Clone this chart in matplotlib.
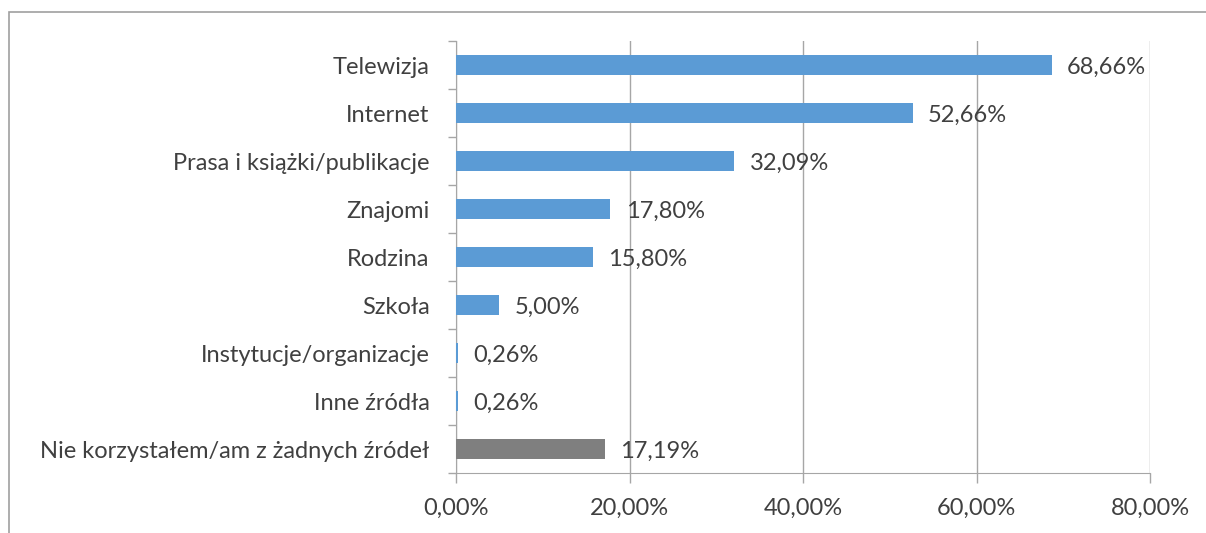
import matplotlib.pyplot as plt
from matplotlib.patches import Rectangle
from matplotlib.ticker import FixedLocator

categories = ["Telewizja", "Internet", "Prasa i książki/publikacje", "Znajomi",
              "Rodzina", "Szkoła", "Instytucje/organizacje", "Inne źródła",
              "Nie korzystałem/am z żadnych źródeł"]
values = [68.66, 52.66, 32.09, 17.80, 15.80, 5.00, 0.26, 0.26, 17.19]
value_labels = ["68,66%", "52,66%", "32,09%", "17,80%", "15,80%", "5,00%",
                "0,26%", "0,26%", "17,19%"]
bar_colors = ["#5B9BD5"] * 8 + ["#7F7F7F"]
xticks = [0, 20, 40, 60, 80]
xtick_labels = ["0,00%", "20,00%", "40,00%", "60,00%", "80,00%"]

plt.rcParams['font.family'] = ['Lato', 'DejaVu Sans']
txt = "#404040"
grid = "#A6A6A6"
fs = 17

fig = plt.figure(figsize=(12.06, 5.33), dpi=100)
W, H = 1206, 533

# outer chart frame (cut by the page edge right and bottom)
fig.patches.append(Rectangle((9 / W, -0.1), 1.2, 1 - 12 / H + 0.1,
                             transform=fig.transFigure, fill=False,
                             edgecolor="#9F9F9F", linewidth=1.2))

ax = fig.add_axes([456 / W, 1 - 473 / H, (1150 - 456) / W, (473 - 41) / H])

n = len(categories)
ypos = list(range(n))
ax.barh(ypos, values, height=0.42, color=bar_colors, zorder=3)
ax.set_ylim(n - 0.5, -0.5)
ax.set_xlim(0, 80)

for y, v, lab in zip(ypos, values, value_labels):
    ax.annotate(lab, (v, y), xytext=(11, -2), textcoords="offset points",
                va="center", ha="left", fontsize=fs, color=txt, zorder=4)

ax.set_xticks(xticks)
ax.set_xticklabels(xtick_labels, fontsize=fs, color=txt)
ax.xaxis.grid(True, color=grid, linewidth=1, zorder=0)

ax.set_yticks(ypos)
ax.set_yticklabels(categories, fontsize=fs, color=txt)
ax.yaxis.set_minor_locator(FixedLocator([i - 0.5 for i in range(n + 1)]))
ax.tick_params(axis="y", which="major", length=0, pad=19)
ax.tick_params(axis="y", which="minor", length=6, color=grid, width=1)
ax.tick_params(axis="x", length=7, color=grid, width=1, pad=11)

for s in ["top", "right"]:
    ax.spines[s].set_visible(False)
ax.spines["left"].set_color(grid)
ax.spines["bottom"].set_color(grid)

fig.savefig("out.png", dpi=100)
